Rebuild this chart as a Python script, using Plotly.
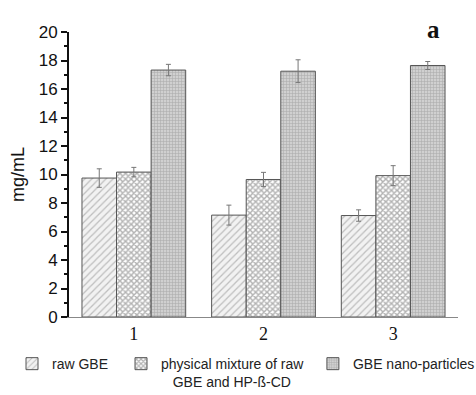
import plotly.graph_objects as go

groups = [1, 2, 3]
group_labels = ["1", "2", "3"]
series_names = [
    "raw GBE",
    "physical mixture of raw<br>\u00a0\u00a0\u00a0GBE and HP-ß-CD",
    "GBE nano-particles",
]
raw_gbe = [9.75, 7.15, 7.12]
raw_gbe_err = [0.65, 0.7, 0.4]
mixture = [10.17, 9.65, 9.92]
mixture_err = [0.33, 0.5, 0.7]
nano = [17.33, 17.25, 17.65]
nano_err = [0.4, 0.8, 0.28]

values = [raw_gbe, mixture, nano]
errors = [raw_gbe_err, mixture_err, nano_err]
patterns = [
    dict(shape="/", fgcolor="#8a8a8a", bgcolor="#f2f2f2", size=5, solidity=0.25),
    dict(shape="x", fgcolor="#666666", bgcolor="#ffffff", size=4, solidity=0.6),
    dict(shape="+", fgcolor="#8a8a8a", bgcolor="#d0d0d0", size=3, solidity=0.35),
]
legend_ids = ["legend", "legend2", "legend3"]

fig = go.Figure()
for name, vals, errs, pat, lg in zip(series_names, values, errors, patterns, legend_ids):
    fig.add_trace(go.Bar(
        x=groups, y=vals, name=name, legend=lg,
        marker=dict(color="#ffffff", pattern=pat, line=dict(color="#555555", width=1)),
        error_y=dict(type="data", array=errs, visible=True, color="#777777", thickness=1, width=2.5),
    ))

legend_font = dict(family="Liberation Sans, Arial", size=14, color="#222222")
def legend_at(xpos):
    return dict(orientation="h", x=xpos, xanchor="left", y=-0.109, yanchor="top",
                valign="top", font=legend_font, itemwidth=30,
                bgcolor="rgba(0,0,0,0)")

fig.update_layout(
    width=476, height=395,
    margin=dict(l=69, r=18, t=32, b=78, autoexpand=False),
    paper_bgcolor="white", plot_bgcolor="white",
    barmode="group", bargap=0.2, bargroupgap=0,
    showlegend=True,
    legend=legend_at(-0.1465),
    legend2=legend_at(0.1337),
    legend3=legend_at(0.627),
    xaxis=dict(range=[0.5, 3.5], tickvals=groups, ticktext=group_labels,
               showline=True, linecolor="#888888", linewidth=1, ticks="",
               showgrid=False, zeroline=False,
               tickfont=dict(family="Liberation Serif, Times New Roman", size=18, color="#111111")),
    yaxis=dict(range=[0, 20], dtick=2, tick0=0, showline=True, linecolor="#111111", linewidth=2,
               ticks="outside", ticklen=6, tickwidth=2, tickcolor="#111111",
               minor=dict(dtick=1, ticks="outside", ticklen=3, tickwidth=2, tickcolor="#111111"),
               showgrid=False, zeroline=False, automargin=True,
               tickfont=dict(family="Liberation Sans, Arial", size=17, color="#111111"),
               title=dict(text="mg/mL", standoff=9,
                          font=dict(family="Liberation Sans, Arial", size=18, color="#111111"))),
    annotations=[dict(text="<b>a</b>", x=0.936, y=1.0, xref="paper", yref="paper",
                      xanchor="center", yanchor="middle", yshift=3,
                      showarrow=False, font=dict(family="Liberation Serif, Times New Roman", size=25, color="#111111"))],
)

fig.write_html("out.html", config={"displayModeBar": False},
               post_script="document.body.style.margin='0px';document.body.style.padding='0px';")
